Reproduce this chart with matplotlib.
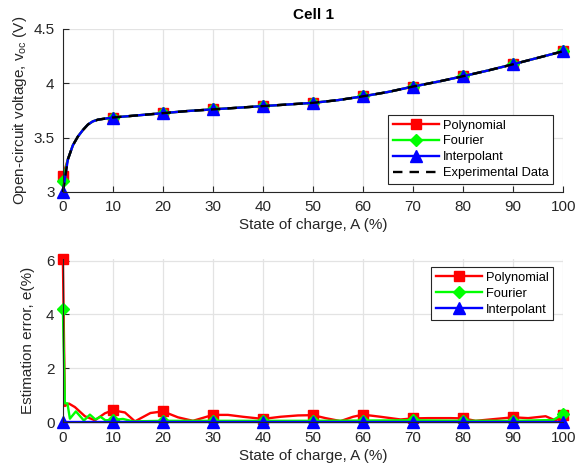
import matplotlib
matplotlib.use("Agg")
import matplotlib.pyplot as plt

plt.rcParams['font.family'] = ['Liberation Sans', 'DejaVu Sans']
plt.rcParams['mathtext.default'] = 'regular'

# ----------------------------- data --------------------------------
# open-circuit voltage vs state of charge
soc = [0, 1, 2, 3, 4, 5, 6, 7, 8, 10, 15, 20, 25, 30, 35, 40, 45, 50,
       55, 60, 65, 70, 75, 80, 85, 90, 95, 100]
v_exp = [3.00, 3.30, 3.43, 3.51, 3.57, 3.62, 3.65, 3.665, 3.672, 3.685,
         3.705, 3.725, 3.745, 3.76, 3.775, 3.79, 3.805, 3.82, 3.845,
         3.88, 3.92, 3.97, 4.015, 4.065, 4.118, 4.175, 4.235, 4.295]
v_poly = [3.15] + v_exp[1:]
v_four = [3.10] + v_exp[1:]
v_interp = list(v_exp)

# estimation error (%)
soc_poly_err = [0, 0.4, 1.2, 2.4, 4.4, 6.4, 8.4, 10, 12.4, 14.4, 17.5, 20,
                23, 26, 30, 33, 36, 40, 43.5, 47, 50, 52.5, 55.5, 58, 60,
                63.5, 67.5, 70, 73, 77.5, 80, 82.5, 86.5, 90, 93, 96.5,
                98.5, 100]
err_poly = [6.05, 0.6, 0.69, 0.56, 0.22, 0.07, 0.33, 0.44, 0.36, 0.03,
            0.34, 0.40, 0.18, 0.05, 0.27, 0.27, 0.2, 0.12, 0.2, 0.25,
            0.26, 0.15, 0.04, 0.2, 0.28, 0.2, 0.1, 0.14, 0.15, 0.15,
            0.14, 0.05, 0.12, 0.18, 0.15, 0.22, 0.06, 0.25]

soc_four_err = [0, 0.4, 0.9, 1.4, 2.6, 4.2, 5.4, 6.5, 7.5, 8.5, 10, 12,
                14, 20, 30, 40, 50, 60, 70, 80, 90, 98, 100]
err_four = [4.2, 0.7, 0.7, 0.13, 0.4, 0.06, 0.28, 0.1, 0.2, 0.07, 0.08,
            0.12, 0.03, 0.05, 0.05, 0.05, 0.05, 0.06, 0.07, 0.05, 0.05,
            0.08, 0.3]

soc_interp_err = [0, 10, 20, 30, 40, 50, 60, 70, 80, 90, 100]
err_interp = [0, 0, 0, 0, 0, 0, 0, 0, 0, 0, 0]

ticks_x = [0, 10, 20, 30, 40, 50, 60, 70, 80, 90, 100]

# ----------------------------- style -------------------------------
dark = '#262626'
grid_c = '#e3e3e3'


def marks(xs):
    # markers only at the multiples of 10
    return [i for i, x in enumerate(xs) if x % 10 == 0]


def style_axes(ax):
    ax.set_facecolor('white')
    for s in ['top', 'right']:
        ax.spines[s].set_visible(False)
    for s in ['left', 'bottom']:
        ax.spines[s].set_color(dark)
        ax.spines[s].set_linewidth(0.8)
    ax.tick_params(direction='in', length=4, width=0.8, colors=dark,
                   labelsize=11, pad=6)
    ax.grid(True, color=grid_c, linewidth=0.9)
    ax.set_axisbelow(True)
    ax.set_xlim(0, 100)
    ax.set_xticks(ticks_x)


fig = plt.figure(figsize=(5.77, 4.67), dpi=100)

# ======================= top: OCV curves ===========================
ax1 = fig.add_axes([0.109, 0.589, 0.867, 0.349])
style_axes(ax1)
lw = 1.7
ax1.plot(soc, v_poly, color='red', lw=lw, marker='s', ms=7,
         markevery=marks(soc), clip_on=False, label='Polynomial')
ax1.plot(soc, v_four, color='#00ff00', lw=lw, marker='D', ms=6,
         markevery=marks(soc), clip_on=False, label='Fourier')
ax1.plot(soc, v_interp, color='blue', lw=lw, marker='^', ms=8,
         markevery=marks(soc), clip_on=False, label='Interpolant')
ax1.plot(soc, v_exp, color='black', lw=lw, ls=(0, (4, 3)),
         clip_on=False, label='Experimental Data')
ax1.set_ylim(3, 4.5)
ax1.set_yticks([3, 3.5, 4, 4.5])
ax1.set_yticklabels(['3', '3.5', '4', '4.5'])
ax1.set_title('Cell 1', fontsize=11, fontweight='bold', color='black', pad=7)
ax1.set_xlabel('State of charge, A (%)', fontsize=11, color=dark, labelpad=3)
ax1.set_ylabel('Open-circuit voltage, v$_{oc}$ (V)', fontsize=11,
               color=dark, labelpad=3)
leg1 = ax1.legend(loc='lower right', bbox_to_anchor=(0.98, 0.05),
                  fontsize=9.3, frameon=True, fancybox=False,
                  edgecolor=dark, framealpha=1, handlelength=3.6,
                  borderpad=0.35, labelspacing=0.3, handletextpad=0.3,
                  borderaxespad=0)
leg1.get_frame().set_linewidth(0.8)

# ======================= bottom: errors ============================
ax2 = fig.add_axes([0.109, 0.096, 0.867, 0.349])
style_axes(ax2)
ax2.plot(soc_poly_err, err_poly, color='red', lw=lw, marker='s', ms=7,
         markevery=marks(soc_poly_err), clip_on=False, label='Polynomial')
ax2.plot(soc_four_err, err_four, color='#00ff00', lw=lw, marker='D', ms=6,
         markevery=marks(soc_four_err), clip_on=False, label='Fourier')
ax2.plot(soc_interp_err, err_interp, color='blue', lw=lw, marker='^', ms=8,
         clip_on=False, label='Interpolant')
ax2.set_ylim(0, 6.05)
ax2.set_yticks([0, 2, 4, 6])
ax2.set_xlabel('State of charge, A (%)', fontsize=11, color=dark, labelpad=3)
ax2.set_ylabel('Estimation error, e(%)', fontsize=11, color=dark, labelpad=8)
leg2 = ax2.legend(loc='upper right', bbox_to_anchor=(0.98, 0.95),
                  fontsize=9.3, frameon=True, fancybox=False,
                  edgecolor=dark, framealpha=1, handlelength=3.6,
                  borderpad=0.35, labelspacing=0.3, handletextpad=0.3,
                  borderaxespad=0)
leg2.get_frame().set_linewidth(0.8)

fig.savefig('out.png', dpi=100)
